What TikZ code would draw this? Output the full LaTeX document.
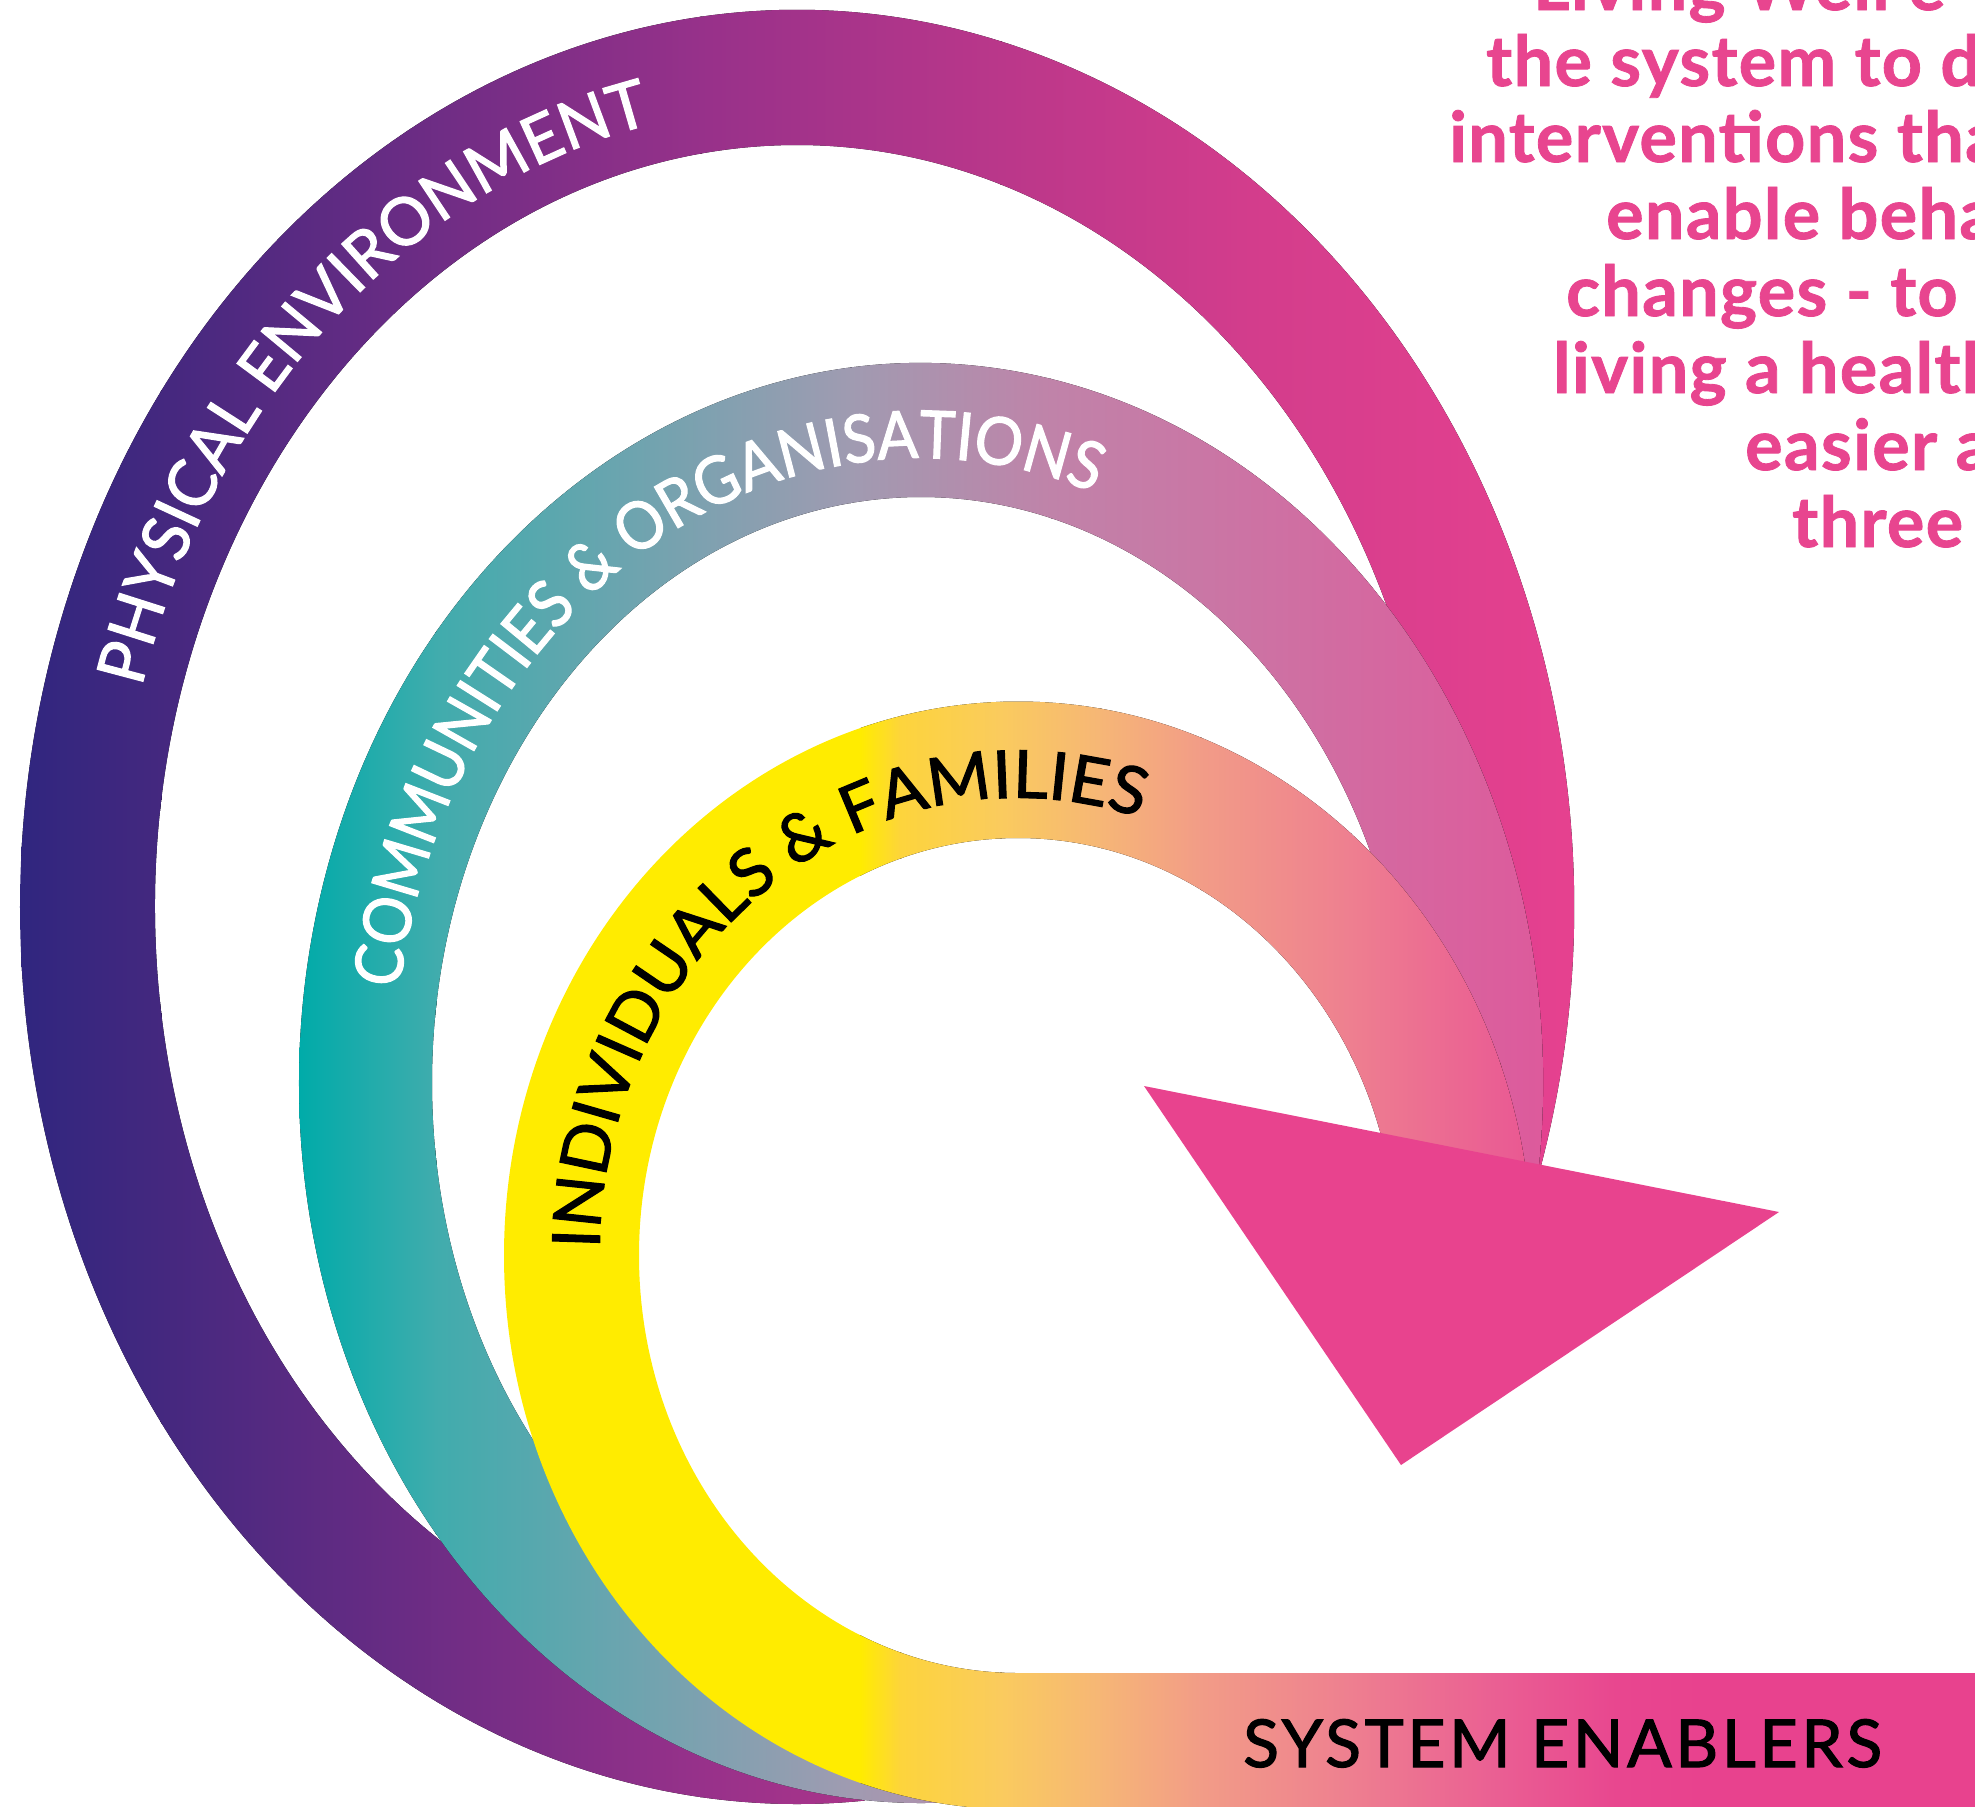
\documentclass[tikz,border=0pt]{standalone}
\usepackage{fontspec}
\setmainfont{Lato}
\newfontfamily\pefam{Lato}[FakeBold=1.8, FakeStretch=0.985]
\newfontfamily\cofam{Lato}[FakeBold=1.8, FakeStretch=0.915]
\newfontfamily\iffam{Lato}[FakeBold=1.8, FakeStretch=1.03]
\newfontfamily\sefam{Lato}[FakeBold=1.8, LetterSpace=5.6]
\newfontfamily\pinkfam{Lato}[LetterSpace=2, BoldFeatures={FakeBold=1.2}]
\usetikzlibrary{decorations.text,calc}
\definecolor{arrowpink}{HTML}{E8438E}
\definecolor{textpink}{HTML}{E8458F}
% physical environment stops
\definecolor{pe0}{HTML}{30267F}\definecolor{pe1}{HTML}{44287F}\definecolor{pe2}{HTML}{97318A}
\definecolor{pe3}{HTML}{BA378A}\definecolor{pe4}{HTML}{D33D8C}\definecolor{pe5}{HTML}{E6418F}
% communities stops
\definecolor{co0}{HTML}{00ABA9}\definecolor{co1}{HTML}{40ACAD}\definecolor{co2}{HTML}{A09BB1}
\definecolor{co3}{HTML}{C083A9}\definecolor{co4}{HTML}{D9629E}\definecolor{co5}{HTML}{DD5A9C}
% individuals stops
\definecolor{if0}{HTML}{FFEC00}\definecolor{if1}{HTML}{FDD43C}\definecolor{if2}{HTML}{FACB5E}
\definecolor{if3}{HTML}{F6B676}\definecolor{if4}{HTML}{F29C87}\definecolor{if5}{HTML}{EE7F90}
\definecolor{if6}{HTML}{EA5E93}\definecolor{if7}{HTML}{E8468F}\definecolor{if8}{HTML}{E8428E}
\newcommand\bandsize{\fontsize{66bp}{72bp}\selectfont}
\newcommand\pinkfont{\pinkfam\fontsize{70bp}{77bp}\selectfont\bfseries}
\newcommand\gstrip[4]{\fill[left color=#3,right color=#4] (#1,20) rectangle ({#2+1.5},-1830);}
\tikzset{
  pinkline/.style={anchor=base west, inner sep=0pt, text=textpink, font=\pinkfont},
  bandlabel/.style={decorate, decoration={text along path, text align=center, text color=#1}}
}
\begin{document}
\begin{tikzpicture}[x=1bp,y=1bp]
\useasboundingbox (0,0) rectangle (1975,-1807);
\clip (0,0) rectangle (1975,-1807);
\coordinate (peC) at (797,-907);
\coordinate (coC) at (921,-1083);
\coordinate (ifC) at (1018,-1255.5);
% ---------- Physical environment band
\begin{scope}
\clip ($(peC)+(-20:777 and 897)$) arc[start angle=-20,end angle=275,x radius=777,y radius=897]
  -- ($(peC)+(275:642 and 762)$) arc[start angle=275,end angle=-20,x radius=642,y radius=762] -- cycle;
\fill[pe0] (0,20) rectangle (22,-1830);
\gstrip{21}{160}{pe0}{pe1}
\gstrip{160}{700}{pe1}{pe2}
\gstrip{700}{1000}{pe2}{pe3}
\gstrip{1000}{1250}{pe3}{pe4}
\gstrip{1250}{1580}{pe4}{pe5}
\fill[pe5] (1580,20) rectangle (1975,-1830);
\end{scope}
% ---------- Communities band
\begin{scope}
\clip ($(coC)+(-10:622 and 720)$) arc[start angle=-10,end angle=272,x radius=622,y radius=720]
  -- ($(coC)+(272:489 and 586)$) arc[start angle=272,end angle=-10,x radius=489,y radius=586] -- cycle;
\fill[co0] (0,20) rectangle (300,-1830);
\gstrip{299}{435}{co0}{co1}
\gstrip{435}{850}{co1}{co2}
\gstrip{850}{1050}{co2}{co3}
\gstrip{1050}{1450}{co3}{co4}
\gstrip{1450}{1545}{co4}{co5}
\fill[co5] (1545,20) rectangle (1975,-1830);
\end{scope}
% ---------- Individuals band + system enablers bar
\begin{scope}
\clip ($(ifC)+(0:514 and 554)$) arc[start angle=0,end angle=270,x radius=514,y radius=554]
  -- (1990,-1809.5) -- (1990,-1673) -- (1018,-1673)
  arc[start angle=270,end angle=0,x radius=379,y radius=417.5] -- cycle;
\fill[if0] (0,20) rectangle (861,-1830);
\gstrip{860}{900}{if0}{if1}
\gstrip{900}{1000}{if1}{if2}
\gstrip{1000}{1100}{if2}{if3}
\gstrip{1100}{1200}{if3}{if4}
\gstrip{1200}{1350}{if4}{if5}
\gstrip{1350}{1500}{if5}{if6}
\gstrip{1500}{1620}{if6}{if7}
\gstrip{1620}{1700}{if7}{if8}
\fill[if8] (1700,20) rectangle (1990,-1830);
\end{scope}
% ---------- arrow head
\fill[arrowpink] (1144,-1086) -- (1779,-1212) -- (1401,-1465) -- cycle;
% ---------- band labels
\path[bandlabel=white, decoration={text={|\pefam\bandsize|PHYSICAL ENVIRONMENT}}]
  ($(peC)+(172.5:681.5 and 801.5)$) arc[start angle=172.5,end angle=92.5,x radius=681.5,y radius=801.5];
\path[bandlabel=white, decoration={text={|\cofam\bandsize|COMMUNITIES {\&} ORGANISATIONS}}]
  ($(coC)+(184.2:527.5 and 625)$) arc[start angle=184.2,end angle=56.2,x radius=527.5,y radius=625];
\path[bandlabel=black, decoration={text={|\iffam\bandsize|INDIVIDUALS {\&} FAMILIES}}]
  ($(ifC)+(181:418.5 and 457.75)$) arc[start angle=181,end angle=71,x radius=418.5,y radius=457.75];
\node[anchor=base west, inner sep=0pt, font=\sefam\bandsize, text=black] (se) at (1243,-1767) {SYSTEM ENABLERS};
% ---------- pink paragraph
\node[pinkline] (l1) at (1533,-10) {Living Well e};
\node[pinkline] (l2) at (1486,-86) {the system to d};
\node[pinkline] (l3) at (1449,-162) {interventions tha};
\node[pinkline] (l4) at (1606,-239) {enable beha};
\node[pinkline] (l5) at (1566,-316) {changes - to};
\node[pinkline] (l6) at (1553,-393) {living a health};
\node[pinkline] (l7) at (1745,-470) {easier a};
\node[pinkline] (l8) at (1792,-547) {three};
\end{tikzpicture}
\end{document}
